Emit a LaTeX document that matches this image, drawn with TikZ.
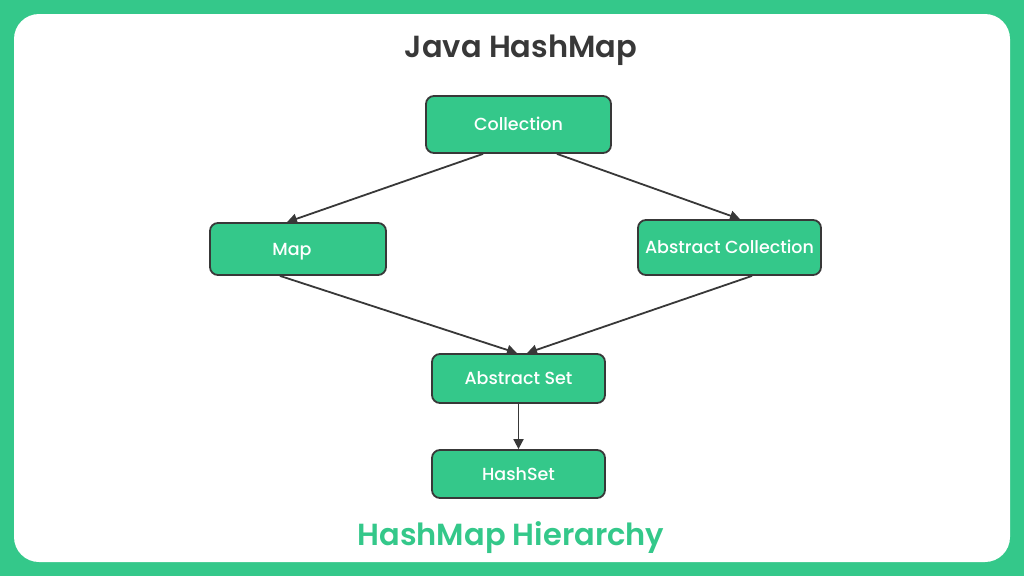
\documentclass[tikz,border=0pt]{standalone}
\usepackage{fontspec}
\setmainfont{Poppins}
\newfontfamily\medfont{Poppins Medium}
\newfontfamily\semifont{Poppins SemiBold}
\usetikzlibrary{arrows.meta}
\definecolor{hmgreen}{HTML}{34C88A}
\definecolor{hmdark}{HTML}{383838}
\begin{document}
\begin{tikzpicture}[x=1pt,y=-1pt,
  box/.style={draw=hmdark,line width=1.8pt,fill=hmgreen,rounded corners=8pt,text=white,font=\medfont\fontsize{17.5}{20}\selectfont,inner sep=0pt,text height=12.5pt,text depth=0pt},
  heading/.style={font=\semifont\fontsize{30.5}{33}\selectfont,inner sep=0pt,text height=21.5pt,text depth=0pt},
  link/.style={draw=hmdark,line width=1.8pt,-{Triangle[length=10pt,width=10pt]}}]
\useasboundingbox (0,0) rectangle (1024,576);
\fill[hmgreen] (0,0) rectangle (1024,576); \fill[white,rounded corners=25pt] (14,14) rectangle (1010,562);
\node[heading,text=hmdark] (title) at (521,47) {Java HashMap};
\node[box,minimum width=185pt,minimum height=57pt] (coll) at (518.5,124.5) {Collection};
\node[box,minimum width=176pt,minimum height=52pt] (map) at (298,249) {\hspace*{-12pt}Map};
\node[box,minimum width=183pt,minimum height=55pt] (acoll) at (729.5,247.5) {Abstract Collection};
\node[box,minimum width=173pt,minimum height=49pt] (aset) at (518.5,378.5) {Abstract Set};
\node[box,minimum width=173pt,minimum height=48pt] (hset) at (518.5,474) {HashSet};
\node[heading,text=hmgreen] (sub) at (511,535) {HashMap Hierarchy};
\draw[link] ([xshift=-35.5pt]coll.south) -- ([xshift=-11pt]map.north); \draw[link] ([xshift=38.5pt]coll.south) -- ([xshift=10.5pt]acoll.north);
\draw[link] ([xshift=-18pt]map.south) -- ([xshift=-1.5pt]aset.north); \draw[link] ([xshift=22.5pt]acoll.south) -- ([xshift=8.5pt]aset.north);
\draw[link] (aset) -- (hset);
\end{tikzpicture}
\end{document}
